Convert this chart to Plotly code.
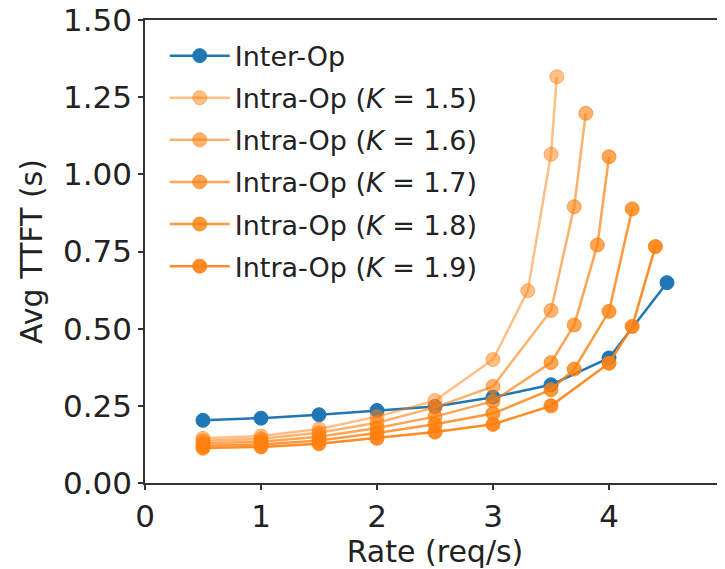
import plotly.graph_objects as go

# ---- data ----
inter_rate = [0.5, 1.0, 1.5, 2.0, 2.5, 3.0, 3.5, 4.0, 4.5]
inter_ttft = [0.203, 0.210, 0.221, 0.235, 0.248, 0.278, 0.318, 0.405, 0.649]

k_labels = ["1.5", "1.6", "1.7", "1.8", "1.9"]

intra_rate_k15 = [0.5, 1.0, 1.5, 2.0, 2.5, 3.0, 3.3, 3.5, 3.55]
intra_ttft_k15 = [0.145, 0.152, 0.175, 0.215, 0.267, 0.400, 0.623, 1.065, 1.316]

intra_rate_k16 = [0.5, 1.0, 1.5, 2.0, 2.5, 3.0, 3.5, 3.7, 3.8]
intra_ttft_k16 = [0.137, 0.143, 0.163, 0.195, 0.245, 0.313, 0.559, 0.895, 1.198]

intra_rate_k17 = [0.5, 1.0, 1.5, 2.0, 2.5, 3.0, 3.5, 3.7, 3.9, 4.0]
intra_ttft_k17 = [0.129, 0.134, 0.150, 0.178, 0.215, 0.265, 0.390, 0.512, 0.771, 1.057]

intra_rate_k18 = [0.5, 1.0, 1.5, 2.0, 2.5, 3.0, 3.5, 3.7, 4.0, 4.2]
intra_ttft_k18 = [0.121, 0.125, 0.138, 0.162, 0.190, 0.225, 0.302, 0.369, 0.556, 0.888]

intra_rate_k19 = [0.5, 1.0, 1.5, 2.0, 2.5, 3.0, 3.5, 4.0, 4.2, 4.4]
intra_ttft_k19 = [0.113, 0.117, 0.127, 0.145, 0.165, 0.190, 0.250, 0.388, 0.507, 0.766]

intra_rates = [intra_rate_k15, intra_rate_k16, intra_rate_k17, intra_rate_k18, intra_rate_k19]
intra_ttfts = [intra_ttft_k15, intra_ttft_k16, intra_ttft_k17, intra_ttft_k18, intra_ttft_k19]
intra_alpha = [0.5, 0.6, 0.7, 0.8, 0.9]

x_ticks = [0, 1, 2, 3, 4, 5]
y_ticks = [0.0, 0.25, 0.5, 0.75, 1.0, 1.25, 1.5]
y_tick_text = ["0.00", "0.25", "0.50", "0.75", "1.00", "1.25", "1.50"]

FONT = "DejaVu Sans"
BLUE = "#1f77b4"

fig = go.Figure()

fig.add_trace(go.Scatter(
    x=inter_rate, y=inter_ttft, mode="lines+markers", name="Inter-Op",
    legendgroup="g0",
    line=dict(color=BLUE, width=2.5),
    marker=dict(color=BLUE, size=14, line=dict(color=BLUE, width=1)),
))

for i, (xs, ys, a, k) in enumerate(zip(intra_rates, intra_ttfts, intra_alpha, k_labels)):
    c = f"rgba(255,127,14,{a})"
    fig.add_trace(go.Scatter(
        x=xs, y=ys, mode="lines+markers",
        name=f"Intra-Op (<i>K</i> = {k})",
        legendgroup=f"g{i+1}",
        line=dict(color=c, width=2.5),
        marker=dict(color=c, size=14, line=dict(color=c, width=1)),
    ))

axis_common = dict(
    showline=True, linecolor="#333333", linewidth=1.5, mirror=True,
    ticks="outside", ticklen=5, tickwidth=1.5, tickcolor="#333333",
    showgrid=False, zeroline=False, automargin=False,
    ticklabeloverflow="allow",
    tickfont=dict(family=FONT, size=31, color="#222222"),
)

# the page body adds an 8px offset; margins compensate for it
fig.update_layout(
    width=725, height=569,
    margin=dict(l=137, r=8, t=12, b=94),
    paper_bgcolor="white", plot_bgcolor="white",
    font=dict(family=FONT, color="#222222"),
    showlegend=True,
    legend=dict(
        x=0.034, y=0.975, xanchor="left", yanchor="top",
        bgcolor="rgba(0,0,0,0)", borderwidth=0,
        font=dict(family=FONT, size=27, color="#222222"),
        tracegroupgap=4, itemwidth=60,
    ),
    xaxis=dict(
        range=[0, 5], tickvals=x_ticks,
        title=dict(text="Rate (req/s)", font=dict(family=FONT, size=30, color="#222222"), standoff=8),
        **axis_common,
    ),
    yaxis=dict(
        range=[0, 1.5], tickvals=y_ticks, ticktext=y_tick_text,
        title=dict(text="Avg TTFT (s)", font=dict(family=FONT, size=30, color="#222222"), standoff=12),
        **axis_common,
    ),
)

fig.write_html("out.html")
